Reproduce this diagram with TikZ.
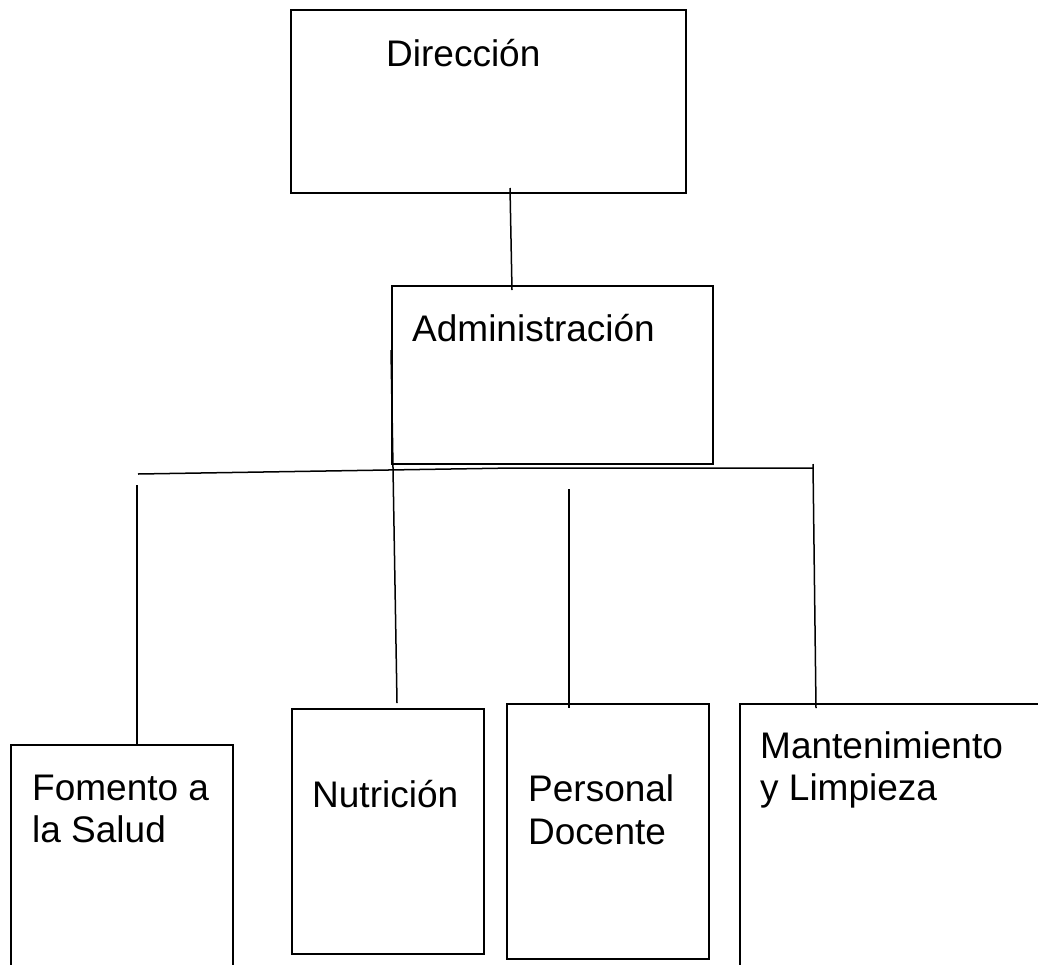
\documentclass[tikz,border=0pt]{standalone}
\usepackage{fontspec}
\setmainfont{Liberation Sans}
\begin{document}
\begin{tikzpicture}[x=1pt,y=-1pt,
  box/.style={draw=black,line width=1.5pt,rectangle,inner sep=0pt,anchor=north west},
  lbl/.style={inner sep=0pt,anchor=base west,font=\fontsize{37}{42.5}\selectfont},
  link/.style={draw=black,line width=1.5pt}]
\useasboundingbox (0,0) rectangle (1038,964);
\clip (0,0) rectangle (1038,964);
% boxes
\node[box,minimum width=395pt,minimum height=183pt] (dir) at (290,9) {};
\node[box,minimum width=321pt,minimum height=178pt] (adm) at (391,285) {};
\node[box,minimum width=222pt,minimum height=300pt] (fom) at (10,744) {};
\node[box,minimum width=192pt,minimum height=245pt] (nut) at (291,708) {};
\node[box,minimum width=202pt,minimum height=255pt] (per) at (506,703) {};
\node[box,minimum width=340pt,minimum height=300pt] (man) at (739,703) {};
% texts
\node[lbl] (tdir) at (386,66) {Dirección};
\node[lbl] (tadm) at (412,341) {Administración};
\node[lbl] (tfom1) at (32,800) {Fomento a};
\node[lbl] (tfom2) at (32,842) {la Salud};
\node[lbl] (tnut) at (312,807) {Nutrición};
\node[lbl] (tper1) at (528,801) {Personal};
\node[lbl] (tper2) at (528,844) {Docente};
\node[lbl] (tman1) at (760,758) {Mantenimiento};
\node[lbl] (tman2) at (760,800) {y Limpieza};
% connector points
\coordinate (d1) at (510,188);
\coordinate (d2) at (512,290);
\coordinate (h1) at (138,474);
\coordinate (h2) at (513,468);
\coordinate (h3) at (813,468);
\coordinate (r1) at (813,464);
\coordinate (r2) at (816,708);
\coordinate (n1) at (391,350);
\coordinate (n2) at (397,703);
\coordinate (p1) at (569,489);
\coordinate (p2) at (569,708);
\coordinate (f1) at (137,485);
\coordinate (f2) at (137,744);
% connectors
\draw[link] (d1) -- (d2);
\draw[link] (h1) -- (h2) -- (h3);
\draw[link] (r1) -- (r2);
\draw[link] (n1) -- (n2);
\draw[link] (p1) -- (p2);
\draw[link] (f1) -- (f2);
\end{tikzpicture}
\end{document}
